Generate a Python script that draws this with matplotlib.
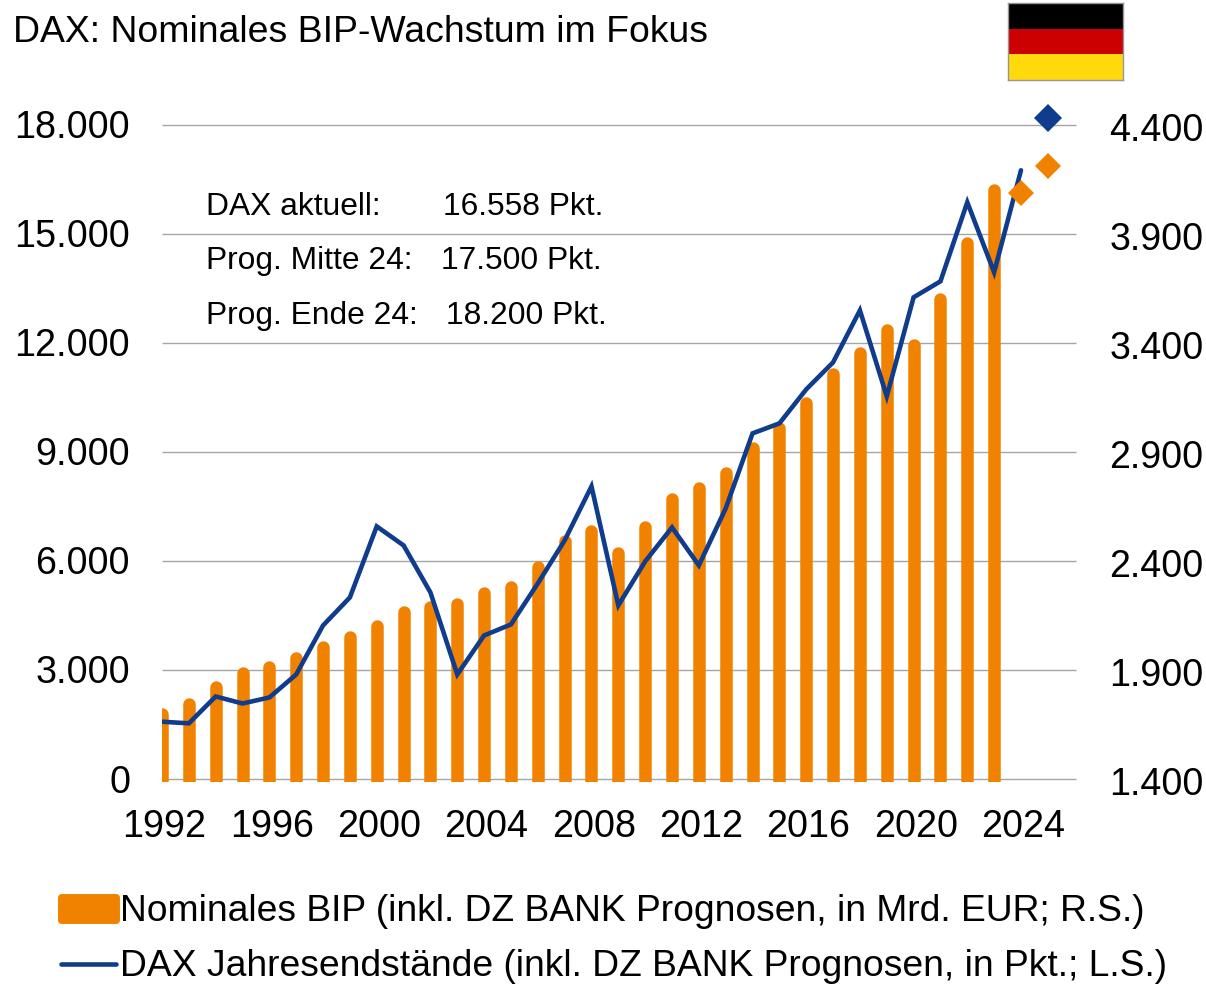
import matplotlib
matplotlib.use('Agg')
import matplotlib.pyplot as plt
from matplotlib.lines import Line2D
from matplotlib.patches import Patch, Rectangle
from matplotlib.transforms import ScaledTranslation

plt.rcParams['font.family'] = ['Liberation Sans', 'DejaVu Sans']

years = list(range(1992, 2024))
bip = [1721, 1767, 1845, 1909, 1937, 1978, 2028, 2074, 2125, 2189, 2212, 2226,
       2276, 2304, 2395, 2515, 2560, 2460, 2579, 2707, 2758, 2827, 2941, 3033,
       3148, 3281, 3377, 3483, 3414, 3625, 3882, 4125]
bip_prog_years = [2024, 2025]
bip_prog = [4088, 4212]

dax_years = list(range(1992, 2025))
dax = [1590, 1545, 2284, 2091, 2257, 2890, 4238, 5009, 6963, 6440, 5146, 2890,
       3963, 4266, 5394, 6578, 8064, 4789, 6000, 6935, 5890, 7458, 9522, 9797,
       10733, 11476, 12907, 10541, 13265, 13705, 15880, 13953, 16760]
dax_prog_year = 2025
dax_prog = 18200

left_ticks = [0, 3000, 6000, 9000, 12000, 15000, 18000]
left_labels = ['0', '3.000', '6.000', '9.000', '12.000', '15.000', '18.000']
right_ticks = [1400, 1900, 2400, 2900, 3400, 3900, 4400]
right_labels = ['1.400', '1.900', '2.400', '2.900', '3.400', '3.900', '4.400']
x_ticks = list(range(1992, 2025, 4))

info_labels = ['DAX aktuell:', 'Prog. Mitte 24:', 'Prog. Ende 24:']
info_values = ['16.558 Pkt.', '17.500 Pkt.', '18.200 Pkt.']

ORANGE = '#F18200'
BLUE = '#0F3C8C'
W, H = 1206, 984

fig = plt.figure(figsize=(W / 100, H / 100), dpi=100)
ax = fig.add_axes([162 / W, 1 - 779.5 / H, 914 / W, 654.3 / H])
ax2 = ax.twinx()
ax3 = ax.twinx()  # only for the orange forecast diamonds, they lie over the line
ax2.set_zorder(1)
ax.set_zorder(2)
ax3.set_zorder(3)
ax.patch.set_visible(False)
ax3.patch.set_visible(False)
ax3.axis('off')

# bars + grid on the right axis, so the grid stays behind them
ax2.set_axisbelow(True)
ax2.grid(axis='y', color='#A6A6A6', linewidth=1.0)
for gl in ax2.get_ygridlines():
    gl.set_clip_on(False)
    gl.set_solid_capstyle('butt')

# bars with round tops: thick lines with a round cap, cap_h is about the height of that cap
bar_lw = 9.0
cap_h = 0.75 * (bar_lw / 2 * 100 / 72) * 3000 / 654.3
clip = Rectangle((0, -0.004), 1, 1.1, transform=ax2.transAxes)
bars = ax2.vlines(years, 1200, [v - cap_h for v in bip], color=ORANGE, linewidth=bar_lw,
                  capstyle='round')
bars.set_clip_path(clip)
ax3.plot(bip_prog_years, bip_prog, linestyle='none', marker='D', markersize=13,
         color=ORANGE, markeredgewidth=0, clip_on=False)

ax.plot(dax_years, dax, color=BLUE, linewidth=3.3, solid_capstyle='round', solid_joinstyle='miter')
ax.plot([dax_prog_year], [dax_prog], linestyle='none', marker='D', markersize=14,
        color=BLUE, markeredgewidth=0, clip_on=False)

ax.set_xlim(1992.03, 2026.05)
ax.set_ylim(0, 18000)
ax2.set_ylim(1400, 4400)
ax3.set_ylim(1400, 4400)

ax.set_yticks(left_ticks, left_labels)
ax2.set_yticks(right_ticks, right_labels)
ax.set_xticks(x_ticks, [str(y) for y in x_ticks])
ax.tick_params(axis='y', length=0, pad=23, labelsize=27.2)
ax2.tick_params(axis='y', length=0, pad=24, labelsize=27.1)
ax.tick_params(axis='x', length=0, pad=21, labelsize=27.2)
shift = ScaledTranslation(1.6 / 72, 0, fig.dpi_scale_trans)
for lab in ax.get_xticklabels():
    lab.set_transform(lab.get_transform() + shift)
up = ScaledTranslation(0, 0.7 / 72, fig.dpi_scale_trans)
for lab in ax.get_yticklabels():
    lab.set_transform(lab.get_transform() + up)
down = ScaledTranslation(0, -1.4 / 72, fig.dpi_scale_trans)
for lab in ax2.get_yticklabels():
    lab.set_transform(lab.get_transform() + down)

for a in (ax, ax2):
    for s in a.spines.values():
        s.set_visible(False)

fig.text(13 / W, 1 - 33 / H, 'DAX: Nominales BIP-Wachstum im Fokus', fontsize=26.9,
         ha='left', va='center', color='black')

for y_px, lab, val, x_px in zip([207, 261, 316], info_labels, info_values, [443, 441, 446]):
    fig.text(206 / W, 1 - y_px / H, lab, fontsize=22.9, ha='left', va='center')
    fig.text(x_px / W, 1 - y_px / H, val, fontsize=22.9, ha='left', va='center')

# flag
flag = fig.add_axes([1008 / W, 1 - 80 / H, 114.5 / W, 77 / H])
flag.set_xlim(0, 1)
flag.set_ylim(0, 3)
flag.set_xticks([])
flag.set_yticks([])
flag.axhspan(2, 3, color='black', linewidth=0)
flag.axhspan(1, 2, color='#CC0000', linewidth=0)
flag.axhspan(0, 1, color='#FFD90C', linewidth=0)
for s in flag.spines.values():
    s.set_color('#969696')
    s.set_linewidth(1.0)

handles = [
    Patch(facecolor=ORANGE, edgecolor=ORANGE, linewidth=5),
    Line2D([0], [0], color=BLUE, linewidth=3.3, solid_capstyle='round'),
]
labels = ['Nominales BIP (inkl. DZ BANK Prognosen, in Mrd. EUR; R.S.)',
          'DAX Jahresendstände (inkl. DZ BANK Prognosen, in Pkt.; L.S.)']
leg = fig.legend(handles, labels, loc='lower left', bbox_to_anchor=(60.8 / W, 0.0),
                 frameon=False, fontsize=26.82, handlelength=1.49, handleheight=0.58,
                 handletextpad=0.1, labelspacing=0.525, borderpad=0, borderaxespad=0)
leg.get_patches()[0].set_joinstyle('round')

fig.savefig('out.png', dpi=100)
